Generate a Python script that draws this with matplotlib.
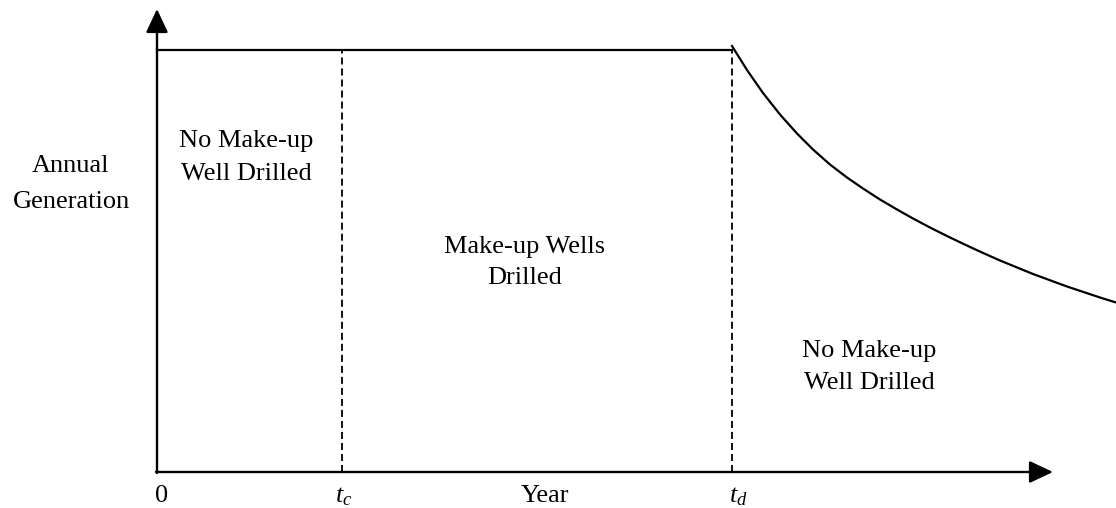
import matplotlib
matplotlib.use('Agg')
import matplotlib.pyplot as plt

# schematic values (arbitrary units)
plateau = 4.22            # annual generation while make-up wells are drilled
t_c = 1.85
t_d = 5.75
decay_x = [5.75, 5.90, 6.06, 6.23, 6.40, 6.56, 6.73, 6.90, 7.06, 7.23, 7.40,
           7.56, 7.73, 7.90, 8.06, 8.23, 8.43, 8.76, 9.10, 9.43, 9.59]
decay_y = [4.26, 4.02, 3.79, 3.575, 3.385, 3.225, 3.075, 2.945, 2.835, 2.725, 2.625,
           2.535, 2.445, 2.36, 2.283, 2.204, 2.115, 1.98, 1.855, 1.745, 1.695]
ylabel_lines = ['Annual', 'Generation']
region_labels = [['No Make-up', 'Well Drilled'],
                 ['Make-up Wells', 'Drilled'],
                 ['No Make-up', 'Well Drilled']]
tick_labels = ['0', '$t_c$', 'Year', '$t_d$']

plt.rcParams['font.family'] = ['Liberation Serif', 'DejaVu Serif']
plt.rcParams['mathtext.fontset'] = 'custom'
plt.rcParams['mathtext.rm'] = 'Liberation Serif'
plt.rcParams['mathtext.it'] = 'Liberation Serif:italic'

fig = plt.figure(figsize=(11.16, 5.08), dpi=100)
ax = fig.add_axes([0, 0, 1, 1])
ax.set_xlim(-1.57, 9.59)
ax.set_ylim(-0.36, 4.72)
ax.axis('off')

# axes with arrow heads
arr = dict(arrowstyle='-|>,head_length=1.45,head_width=0.68', color='black', lw=1.7,
           shrinkA=0, shrinkB=0)
ax.annotate('', xy=(0, 4.63), xytext=(0, -0.01), arrowprops=arr)
ax.annotate('', xy=(8.96, 0), xytext=(-0.01, 0), arrowprops=arr)

# generation profile
ax.plot([0, t_d], [plateau, plateau], color='black', lw=1.6)
ax.plot(decay_x, decay_y, color='black', lw=1.6, solid_joinstyle='round')
for t in [t_c, t_d]:
    ax.plot([t, t], [0, plateau], color='black', lw=1.3, dashes=(3.9, 2.2))

fs = 19
# (centre x, baseline y) of each line of text
ax.text(-0.87, 3.00, ylabel_lines[0], ha='center', va='baseline', fontsize=fs)
ax.text(-0.86, 2.64, ylabel_lines[1], ha='center', va='baseline', fontsize=fs)
region_pos = [(0.89, 3.25, 2.92), (3.68, 2.19, 1.88), (7.12, 1.15, 0.83)]
for lines, (x, y1, y2) in zip(region_labels, region_pos):
    ax.text(x, y1, lines[0], ha='center', va='baseline', fontsize=fs)
    ax.text(x, y2, lines[1], ha='center', va='baseline', fontsize=fs)

tick_x = [0.05, t_c + 0.02, 3.88, t_d + 0.06]
for x, s in zip(tick_x, tick_labels):
    ax.text(x, -0.30, s, ha='center', va='baseline', fontsize=fs)

fig.savefig('out.png', dpi=100)
